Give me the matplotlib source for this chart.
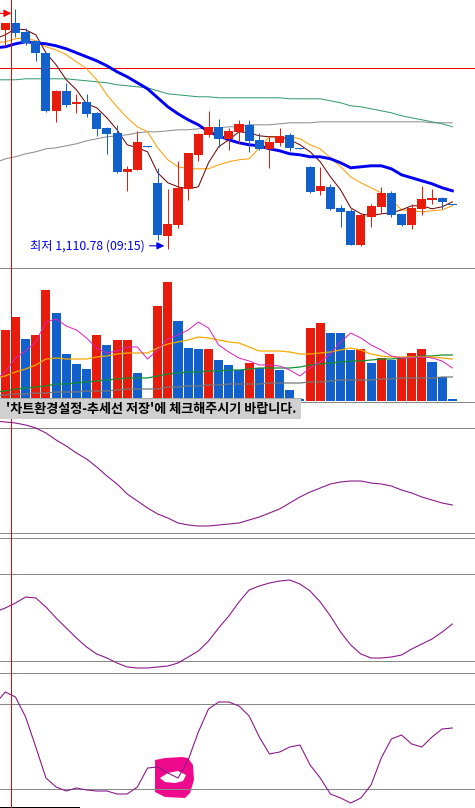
import numpy as np
import matplotlib
matplotlib.use("Agg")
import matplotlib.pyplot as plt
from matplotlib.patches import Polygon, Rectangle

plt.rcParams['font.family'] = ['Noto Sans CJK KR', 'DejaVu Sans']

# candles, one per 5 minutes
opens = [1132.7, 1133.4, 1132.5, 1131.6, 1130.4, 1124.6, 1126.6, 1125.3, 1125.5, 1124.4, 1122.9, 1122.4, 1118.5, 1118.7, 1121.1,
         1117.4, 1112.1, 1113.2, 1116.8, 1120.2, 1122.2, 1123.0, 1121.8, 1122.5, 1123.2, 1121.7, 1120.8, 1121.4, 1122.2, 1120.9,
         1119.0, 1116.6, 1117.0, 1114.9, 1114.6, 1111.2, 1114.0, 1115.0, 1116.4, 1114.3, 1113.2, 1114.8, 1115.7, 1115.9, 1115.3]
closes = [1133.4, 1132.4, 1131.4, 1130.4, 1124.6, 1126.6, 1125.2, 1125.5, 1124.3, 1122.8, 1122.3, 1118.5, 1118.8, 1121.5, 1121.0,
          1112.2, 1113.3, 1116.9, 1120.4, 1122.3, 1123.0, 1121.8, 1122.6, 1123.3, 1121.6, 1120.8, 1121.5, 1122.1, 1120.9, 1120.8,
          1116.5, 1117.1, 1114.8, 1114.5, 1111.2, 1114.2, 1115.1, 1116.4, 1114.2, 1113.2, 1114.9, 1115.8, 1115.9, 1115.5, 1115.2]
highs = [1133.4, 1134.8, 1132.9, 1131.7, 1130.4, 1126.7, 1127.4, 1126.3, 1126.3, 1124.5, 1123.0, 1123.2, 1119.1, 1122.6, 1121.1,
         1118.9, 1116.8, 1119.6, 1120.4, 1122.4, 1124.6, 1123.8, 1122.9, 1123.7, 1123.7, 1122.4, 1122.0, 1122.9, 1122.4, 1120.9,
         1119.1, 1119.0, 1117.3, 1115.2, 1114.8, 1114.3, 1115.3, 1117.0, 1116.6, 1114.3, 1115.3, 1117.1, 1116.8, 1116.0, 1115.3]
lows = [1131.1, 1132.0, 1131.2, 1129.6, 1124.5, 1123.5, 1125.0, 1124.4, 1124.0, 1122.1, 1120.3, 1118.4, 1116.6, 1118.7, 1121.0,
        1111.7, 1110.78, 1112.9, 1115.7, 1119.6, 1122.0, 1121.0, 1120.7, 1121.4, 1120.5, 1120.7, 1118.9, 1121.1, 1120.6, 1120.8,
        1116.4, 1116.2, 1114.7, 1113.0, 1111.2, 1111.1, 1113.0, 1114.4, 1114.0, 1113.1, 1112.8, 1114.2, 1115.3, 1114.8, 1115.2]

# moving averages start one bar left of the window
ma5 = [1131.8, 1132.2, 1132.8, 1132.7, 1132.2, 1130.4, 1129.2, 1127.7, 1126.7, 1125.3, 1124.9, 1123.9, 1122.7, 1121.2, 1120.9, 1120.5,
       1118.4, 1117.4, 1117.0, 1116.8, 1117.0, 1119.4, 1121.0, 1121.7, 1122.5, 1122.4, 1122.1, 1122.0, 1122.0, 1121.7, 1121.2,
       1120.5, 1119.5, 1118.0, 1116.7, 1114.9, 1114.3, 1114.1, 1114.3, 1114.4, 1114.7, 1115.1, 1115.1, 1114.8, 1115.0, 1115.5]
ma10 = [1131.4, 1131.5, 1131.8, 1131.9, 1131.6, 1131.0, 1130.7, 1130.2, 1129.5, 1128.8, 1127.7, 1126.2, 1125.0, 1123.9, 1123.0, 1122.5,
        1120.9, 1119.7, 1119.0, 1118.8, 1118.8, 1118.8, 1119.2, 1119.5, 1119.7, 1119.8, 1120.9, 1122.0, 1121.9, 1122.0, 1121.8,
        1121.2, 1120.8, 1119.9, 1119.0, 1118.0, 1117.4, 1116.9, 1116.4, 1115.7, 1114.7, 1114.6, 1114.5, 1114.6, 1114.7, 1115.1]
ma20 = [1130.9, 1131.0, 1131.3, 1131.5, 1131.4, 1131.3, 1131.1, 1130.8, 1130.4, 1130.0, 1129.6, 1129.1, 1128.5, 1128.0, 1127.4, 1126.8,
        1125.9, 1125.0, 1124.3, 1123.7, 1123.2, 1122.5, 1122.1, 1121.7, 1121.4, 1121.2, 1121.1, 1120.8, 1120.6, 1120.3, 1120.2,
        1120.0, 1120.0, 1119.8, 1119.4, 1118.9, 1119.0, 1119.1, 1119.1, 1118.8, 1118.2, 1117.9, 1117.6, 1117.3, 1116.9, 1116.6]
ma60 = [1127.7, 1127.7, 1127.7, 1127.8, 1127.8, 1127.8, 1127.8, 1127.8, 1127.7, 1127.6, 1127.5, 1127.4, 1127.2, 1127.1, 1127.0, 1126.9,
        1126.6, 1126.3, 1126.2, 1126.1, 1126.0, 1126.0, 1125.9, 1125.9, 1125.9, 1125.9, 1125.9, 1125.9, 1125.9, 1125.8, 1125.8,
        1125.8, 1125.8, 1125.6, 1125.4, 1125.1, 1125.0, 1124.8, 1124.6, 1124.4, 1124.1, 1123.9, 1123.7, 1123.5, 1123.3, 1123.0]
ma120 = [1119.4, 1119.8, 1120.0, 1120.3, 1120.5, 1120.8, 1120.9, 1121.1, 1121.3, 1121.6, 1121.8, 1122.0, 1122.1, 1122.2, 1122.4, 1122.5,
         1122.5, 1122.6, 1122.7, 1122.7, 1122.8, 1122.9, 1122.9, 1123.0, 1123.0, 1123.2, 1123.2, 1123.2, 1123.3, 1123.4, 1123.4,
         1123.4, 1123.5, 1123.5, 1123.5, 1123.5, 1123.5, 1123.5, 1123.5, 1123.5, 1123.5, 1123.5, 1123.5, 1123.4, 1123.4, 1123.4]
ref_price = 1128.9

# volume bars
volume = [71, 84, 62, 66, 111, 88, 47, 37, 32, 66, 56, 61, 61, 28, 1, 95, 119, 80, 53, 52, 52, 41, 36,
          31, 38, 33, 47, 31, 11, 2, 73, 78, 68, 68, 51, 52, 38, 43, 41, 43, 48, 52, 39, 24, 2]
volume_up = [1, 1, 0, 1, 1, 0, 0, 0, 0, 1, 0, 1, 1, 0, 0, 1, 1, 0, 0, 0, 1, 0, 0,
             0, 1, 0, 1, 0, 0, 0, 1, 1, 0, 0, 0, 1, 0, 1, 0, 1, 1, 1, 0, 0, 0]
vol_ma5 = [21, 29, 43, 50, 59, 79, 82, 75, 71, 63, 53, 48, 50, 54, 54, 42, 51, 62, 66, 71, 79, 73, 56, 49, 43,
           40, 36, 36, 35, 31, 25, 33, 39, 47, 59, 68, 63, 56, 51, 45, 43, 43, 44, 43, 40, 33]
vol_ma20 = [23, 25, 29, 32, 36, 42, 43, 42, 42, 42, 44, 45, 47, 48, 48, 48, 53, 57, 59, 61, 64, 63, 61, 59, 58,
            54, 50, 50, 50, 49, 47, 47, 48, 49, 51, 53, 51, 47, 45, 44, 44, 44, 44, 44, 43, 42]
vol_ma60 = [9, 10, 12, 13, 14, 15, 17, 17, 18, 19, 20, 21, 22, 23, 23, 23, 25, 27, 28, 29, 29, 30, 30, 31, 31,
            32, 33, 33, 33, 33, 34, 36, 37, 38, 39, 40, 40, 41, 42, 42, 43, 44, 45, 45, 46, 46]
vol_ma120 = [5, 6, 7, 7, 8, 8, 9, 9, 9, 10, 10, 10, 11, 12, 12, 12, 12, 14, 14, 15, 15, 16, 16, 17, 17,
             17, 17, 18, 18, 18, 18, 19, 19, 20, 21, 21, 21, 21, 22, 22, 23, 23, 23, 23, 24, 24]

# lower indicators
osc_a = [116, 115, 114, 112, 109, 104, 97, 91, 84, 78, 70, 61, 53, 43, 36, 29, 23, 19, 14, 12, 11, 11, 12, 13, 14,
         17, 20, 24, 28, 34, 40, 45, 49, 53, 55, 56, 56, 54, 53, 51, 47, 44, 40, 37, 34, 32]
osc_b = [60, 64, 69, 75, 74, 65, 54, 44, 34, 25, 18, 14, 9, 5, 4, 4, 5, 6, 9, 15, 21, 31, 44, 56, 70,
         82, 86, 89, 91, 92, 88, 81, 70, 56, 40, 27, 18, 14, 14, 15, 17, 23, 28, 33, 40, 48]
osc_c = [103, 115, 110, 90, 60, 29, 20, 16, 19, 17, 16, 16, 13, 13, 20, 39, 40, 34, 29, 47, 75, 98, 105, 105, 101,
         91, 70, 53, 55, 60, 62, 42, 29, 13, 9, 4, 9, 22, 49, 68, 72, 63, 60, 70, 78, 79]
levels_a = [109, 4]
levels_b = [98, 11]
levels_c = [103, 18]

UP = "#E81C0C"
DOWN = "#1260CC"
GRID = "#888888"
PURPLE = "#8B1A8B"
W, H = 475, 808
BAR_W = 10.16
THIN = 0.72


def panel(top, bottom, ylim):
    # axes placed by pixel rows, x in bar numbers
    ax = fig.add_axes([0, 1 - bottom / H, 1, (bottom - top) / H])
    ax.set_xlim(-5.3 / BAR_W, (W - 5.3) / BAR_W)
    ax.set_ylim(*ylim)
    ax.set_xticks([])
    ax.set_yticks([])
    ax.patch.set_alpha(0)
    for name in ["top", "left", "right"]:
        ax.spines[name].set_visible(False)
    ax.spines["bottom"].set_color(GRID)
    ax.spines["bottom"].set_linewidth(0.72)
    ax.axvline(0.59, color="#F00000", lw=THIN, zorder=8)
    return ax


def line(ax, values, color, lw=THIN, zorder=2):
    ax.plot(np.arange(-1, 45), values, color=color, lw=lw, zorder=zorder, solid_joinstyle="round")


fig = plt.figure(figsize=(W / 100, H / 100), dpi=100, facecolor="white")
bars = np.arange(45)

# PRICE
ax_p = panel(0, 267.5, (1108.93, 1135.68))
ax_p.axhline(ref_price, color="#F00000", lw=THIN, zorder=1)
line(ax_p, ma120, "#8A8A8A")
line(ax_p, ma60, "#2E9B6B")
line(ax_p, ma10, "#FF9C00")
line(ax_p, ma5, "#6B0000")
line(ax_p, ma20, "#0000F0", 2.1)
opens_arr = np.array(opens)
closes_arr = np.array(closes)
candle_colors = [UP if c >= o else DOWN for o, c in zip(opens, closes)]
ax_p.vlines(bars, lows, highs, colors=candle_colors, lw=THIN, zorder=4)
ax_p.bar(bars, closes_arr - opens_arr, bottom=opens_arr, width=0.89, color=candle_colors,
         zorder=5, antialiased=False)
ax_p.annotate("최저 1,110.78 (09:15)", xy=(16, lows[16]), xytext=(-138, 3), textcoords="offset pixels",
              color="#0000F0", fontsize=8.8, va="center", ha="left")
ax_p.annotate("", xy=(15.65, 1111.1), xytext=(14.2, 1111.1), zorder=7,
              arrowprops=dict(arrowstyle="-|>", color="#0000F0", lw=0.8, mutation_scale=11, shrinkA=0, shrinkB=0))
ax_p.annotate("", xy=(0.59, 1134.35), xytext=(-0.55, 1134.35), zorder=7,
              arrowprops=dict(arrowstyle="-|>", color="#F00000", lw=0.8, mutation_scale=11, shrinkA=0, shrinkB=0))

# VOLUME
ax_v = panel(267.5, 402.5, (-1.5, 133.5))
vol_colors = [UP if u else DOWN for u in volume_up]
ax_v.bar(bars, volume, width=0.89, color=vol_colors, zorder=2, antialiased=False)
line(ax_v, vol_ma120, "#777777", 0.9, 3)
line(ax_v, vol_ma60, "#109030", 0.9, 3)
line(ax_v, vol_ma20, "#F5AA00", 0.9, 3)
line(ax_v, vol_ma5, "#DD22BB", THIN, 3)

# INDICATORS
for top, bottom, series, levels in [(402.5, 537.5, osc_a, levels_a),
                                    (537.5, 672.5, osc_b, levels_b),
                                    (672.5, 807.5, osc_c, levels_c)]:
    ax = panel(top, bottom, (-0.5, 134.5))
    for level in levels:
        ax.axhline(level, color=GRID, lw=THIN, zorder=1)
    line(ax, series, PURPLE, 0.8, 3)
ax.axhline(0, xmax=79 / W, color="black", lw=0.72, zorder=3, antialiased=False)

# pixel overlay for the notice box and the pen mark
over = fig.add_axes([0, 0, 1, 1], zorder=-1)
over.set_xlim(0, W)
over.set_ylim(H, 0)
over.axis("off")
stamp = Polygon([(155, 760), (165, 758), (182, 757), (188, 758), (193, 765), (194, 780), (190, 793),
                 (185, 798), (165, 797), (155, 792), (155, 775)], closed=True, color="#EE0A8C", lw=0)
over.add_patch(stamp)
over.add_patch(Polygon([(160, 778), (168, 773), (178, 771), (186, 775), (183, 781), (175, 783), (165, 782)],
                       closed=True, color="white", lw=0, zorder=3))

note = fig.add_axes([0, 0, 1, 1], zorder=10)
note.set_xlim(0, W)
note.set_ylim(H, 0)
note.axis("off")
note.add_patch(Rectangle((0, 398), 301, 21, facecolor="#D0D0D0", edgecolor="none"))
note.plot([0, 301], [398.3, 398.3], color="#A8A8A8", lw=0.5, antialiased=False)
note.text(6, 408.5, "'차트환경설정-추세선 저장'에 체크해주시기 바랍니다.", fontsize=9.4, fontweight="bold",
          color="black", va="center", ha="left")

fig.savefig("out.png", dpi=100)
